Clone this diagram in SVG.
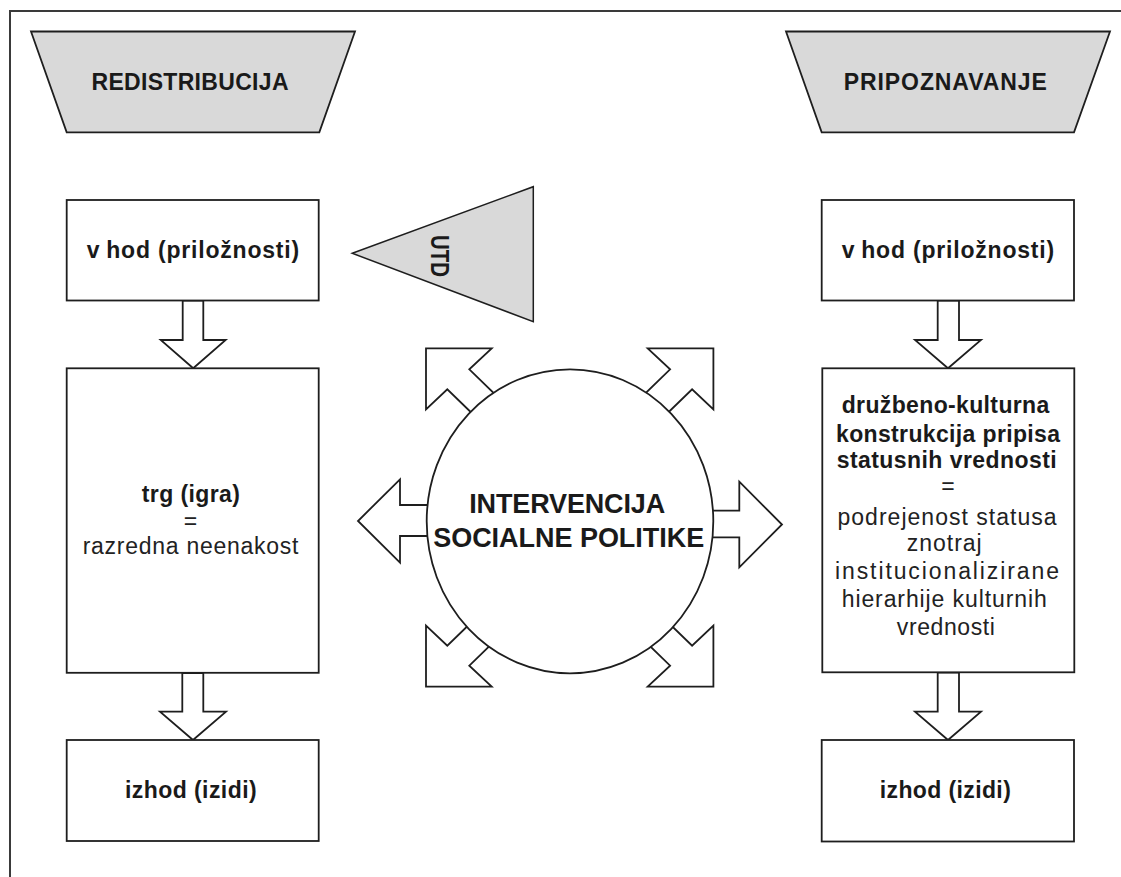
<svg xmlns="http://www.w3.org/2000/svg" width="1121" height="877" viewBox="0 0 1121 877">
<style>
  .frame { fill: none; stroke: #3a3a3a; stroke-width: 2; }
  .trap { fill: #d9d9d9; stroke: #1e1e1e; stroke-width: 1.8; }
  .box { fill: #ffffff; stroke: #1e1e1e; stroke-width: 1.8; }
  .arrow { fill: #ffffff; stroke: #1e1e1e; stroke-width: 1.8; stroke-linejoin: miter; }
  .circ { fill: #ffffff; stroke: #1e1e1e; stroke-width: 1.8; }
  .tri { fill: #d9d9d9; stroke: #1e1e1e; stroke-width: 1.5; }
  text { font-family: "Liberation Sans", Arial, Helvetica, sans-serif; fill: #1a1a1a; text-anchor: middle; }
  .b { font-weight: bold; font-size: 23px; }
  .r { font-weight: normal; font-size: 23px; fill: #222; }
  .big { font-weight: bold; font-size: 27px; }
</style>

<g id="frame">
  <polyline class="frame" points="10,877 10,11 1121,11"/>
</g>

<g id="redistribucija">
  <polygon class="trap" points="31,31.5 355,31.5 319.3,132.3 66.7,132.3"/>
  <text class="b" x="190" y="90" textLength="197" lengthAdjust="spacing">REDISTRIBUCIJA</text>
</g>

<g id="pripoznavanje">
  <polygon class="trap" points="786,31.5 1110,31.5 1074,132.3 821.7,132.3"/>
  <text class="b" x="945.3" y="90" textLength="203" lengthAdjust="spacing">PRIPOZNAVANJE</text>
</g>

<g id="connectors">
  <polygon class="arrow" points="182.7,300.5 203.3,300.5 203.3,340 225.7,340 193.2,368.3 160.7,340 182.7,340"/>
  <polygon class="arrow" points="182.3,673 203.3,673 203.3,711.7 226,711.7 193,740 160,711.7 182.3,711.7"/>
  <polygon class="arrow" points="937.7,300.5 959,300.5 959,340 981,340 948,368.3 915,340 937.7,340"/>
  <polygon class="arrow" points="937.7,672.5 959,672.5 959,711.7 981,711.7 948,740 915,711.7 937.7,711.7"/>
  <polygon class="arrow" points="445,505 400,505 400,479.3 358,521 400,562.7 400,536 445,536"/>
  <polygon class="arrow" points="695,510.7 739.3,510.7 739.3,481.7 782,524.5 739.3,567.3 739.3,537.3 695,537.3"/>
  <polygon class="arrow" points="426,348.3 491.7,348.3 469.3,369.3 505,404 482,423 447.3,389.3 426,409.3"/>
  <polygon class="arrow" points="713.4,348.3 647.7,348.3 670.1,369.3 634.4,404 657.4,423 692.1,389.3 713.4,409.3"/>
  <polygon class="arrow" points="426,686.7 491.7,686.7 469.3,665.7 505,631 482,612 447.3,645.7 426,625.7"/>
  <polygon class="arrow" points="713.4,686.7 647.7,686.7 670.1,665.7 634.4,631 657.4,612 692.1,645.7 713.4,625.7"/>
</g>

<g id="vhod-left">
  <rect class="box" x="66.7" y="200" width="252" height="100.5"/>
  <text class="b" x="193.3" y="258.3" letter-spacing="0.8">v<tspan dx="6">hod (priložnosti)</tspan></text>
</g>

<g id="trg-left">
  <rect class="box" x="66.7" y="368.3" width="252" height="304.5"/>
  <text class="b" x="190.8" y="501.7" textLength="98" lengthAdjust="spacing">trg (igra)</text>
  <text class="r" x="190.5" y="529">=</text>
  <text class="r" x="190.5" y="554" textLength="215.6" lengthAdjust="spacing">razredna neenakost</text>
</g>

<g id="izhod-left">
  <rect class="box" x="66.7" y="740" width="252" height="101"/>
  <text class="b" x="190.8" y="798.3" textLength="131.7" lengthAdjust="spacing">izhod (izidi)</text>
</g>

<g id="vhod-right">
  <rect class="box" x="821.7" y="200" width="252.3" height="100.5"/>
  <text class="b" x="948.3" y="258.3" letter-spacing="0.8">v<tspan dx="6">hod (priložnosti)</tspan></text>
</g>

<g id="konstrukcija-right">
  <rect class="box" x="822.3" y="368.3" width="252" height="304"/>
  <text class="b" x="945.5" y="413.3" textLength="207.6" lengthAdjust="spacing">družbeno-kulturna</text>
  <text class="b" x="948" y="441.7" textLength="224" lengthAdjust="spacing">konstrukcija pripisa</text>
  <text class="b" x="946.7" y="468.3" textLength="220" lengthAdjust="spacing">statusnih vrednosti</text>
  <text class="r" x="948" y="494.4">=</text>
  <text class="r" x="947" y="525" textLength="219" lengthAdjust="spacing">podrejenost statusa</text>
  <text class="r" x="944.2" y="550.5" textLength="75" lengthAdjust="spacing">znotraj</text>
  <text class="r" x="947" y="579" textLength="224" lengthAdjust="spacing">institucionalizirane</text>
  <text class="r" x="944.2" y="606.7" textLength="205" lengthAdjust="spacing">hierarhije kulturnih</text>
  <text class="r" x="945.8" y="635" textLength="98" lengthAdjust="spacing">vrednosti</text>
</g>

<g id="izhod-right">
  <rect class="box" x="821.7" y="740" width="252.3" height="101.5"/>
  <text class="b" x="945.3" y="797.5" textLength="131" lengthAdjust="spacing">izhod (izidi)</text>
</g>

<g id="utd">
  <polygon class="tri" points="352.3,253.3 533.3,186.7 533.3,321.7"/>
  <text class="b" transform="translate(431,256) rotate(90)" x="0" y="0" style="font-size:26px" textLength="42" lengthAdjust="spacingAndGlyphs">UTD</text>
</g>

<g id="intervencija">
  <ellipse class="circ" cx="570" cy="521.3" rx="143.3" ry="152"/>
  <text class="big" x="567.2" y="512.7" textLength="196" lengthAdjust="spacing">INTERVENCIJA</text>
  <text class="big" x="568.7" y="546.7" textLength="271" lengthAdjust="spacing">SOCIALNE POLITIKE</text>
</g>
</svg>
